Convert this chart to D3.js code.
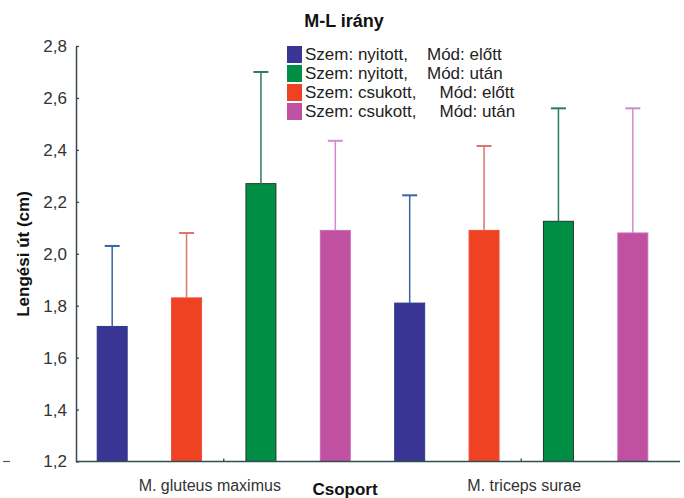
<!DOCTYPE html>
<html><head><meta charset="utf-8">
<script src="https://cdn.jsdelivr.net/npm/d3@7"></script>
<style>
body{margin:0;background:#fff;}
svg{display:block;font-family:"Liberation Sans",Arial,sans-serif;}
</style></head>
<body>
<svg id="chart" width="684" height="498"></svg>
<script>
// ---- data ----
const title = "M-L irány";
const yLabel = "Lengési út (cm)";
const xLabel = "Csoport";
const groups = ["M. gluteus maximus", "M. triceps surae"];
// bar order within each group
const series = ["nyitott-előtt", "csukott-előtt", "nyitott-után", "csukott-után"];
const legendOrder = ["nyitott-előtt", "nyitott-után", "csukott-előtt", "csukott-után"];
const legendLeft = {"nyitott-előtt":"Szem: nyitott,","nyitott-után":"Szem: nyitott,","csukott-előtt":"Szem: csukott,","csukott-után":"Szem: csukott,"};
const legendRight = {"nyitott-előtt":"Mód: előtt","nyitott-után":"Mód: után","csukott-előtt":"Mód: előtt","csukott-után":"Mód: után"};
const meansGluteus = [1.72, 1.83, 2.27, 2.09];
const meansTriceps = [1.81, 2.09, 2.125, 2.08];
const upperGluteus = [2.03, 2.08, 2.70, 2.435];
const upperTriceps = [2.225, 2.415, 2.56, 2.56];
const yTicks = [1.2, 1.4, 1.6, 1.8, 2.0, 2.2, 2.4, 2.6, 2.8];

const fill = {"nyitott-előtt":"#393594","csukott-előtt":"#ee4223","nyitott-után":"#008e45","csukott-után":"#c050a0"};
const stroke = {"nyitott-előtt":"#2a3a8a","csukott-előtt":"#e8503a","nyitott-után":"#1c3b2a","csukott-után":"#c86ab8"};
const errColor = {"nyitott-előtt":"#3a64a6","csukott-előtt":"#d8776a","nyitott-után":"#2d7a5a","csukott-után":"#d48ad0"};

const rows = [];
groups.forEach((g, gi) => {
  const m = gi === 0 ? meansGluteus : meansTriceps;
  const u = gi === 0 ? upperGluteus : upperTriceps;
  series.forEach((s, si) => rows.push({group: g, series: s, mean: m[si], upper: u[si]}));
});

// ---- layout ----
const svg = d3.select("#chart");
const mLeft = 75, mRight = 670, mTop = 46, mBottom = 461.5;

const x0 = d3.scaleBand().domain(groups).range([mLeft, mRight]).padding(0);
const x1 = d3.scaleBand().domain(series).range([0, x0.bandwidth()]).paddingInner(0.597).paddingOuter(0.2985);
const y = d3.scaleLinear().domain([1.2, 2.8]).range([mBottom, mTop]);

const loc = d3.formatLocale({decimal: ",", thousands: " ", grouping: [3], currency: ["", ""]});
const fmt = loc.format(".1f");

// bars
const bars = svg.append("g");
bars.selectAll("rect").data(rows).join("rect")
  .attr("x", d => x0(d.group) + x1(d.series))
  .attr("width", x1.bandwidth())
  .attr("y", d => y(d.mean))
  .attr("height", d => y(1.2) - y(d.mean))
  .attr("fill", d => fill[d.series])
  .attr("stroke", d => stroke[d.series])
  .attr("stroke-width", 1);

// error bars (upper only)
const eb = svg.append("g");
rows.forEach(d => {
  const cx = x0(d.group) + x1(d.series) + x1.bandwidth() / 2;
  eb.append("line").attr("x1", cx).attr("x2", cx).attr("y1", y(d.mean)).attr("y2", y(d.upper))
    .attr("stroke", errColor[d.series]).attr("stroke-width", 1.5);
  eb.append("line").attr("x1", cx - 7.5).attr("x2", cx + 7.5).attr("y1", y(d.upper)).attr("y2", y(d.upper))
    .attr("stroke", errColor[d.series]).attr("stroke-width", 2);
});

// y axis
const yAxis = svg.append("g").attr("transform", `translate(${mLeft + 1},0)`)
  .call(d3.axisLeft(y).tickValues(yTicks).tickFormat(fmt).tickSizeInner(-3).tickSizeOuter(0).tickPadding(9));
yAxis.select(".domain").attr("stroke", "#3a4a4a").attr("stroke-width", 1.5);
yAxis.selectAll(".tick line").attr("stroke", "#3a4a4a").attr("stroke-width", 1.3);
yAxis.selectAll(".tick text").attr("font-size", 17).attr("fill", "#333").attr("font-family", "Liberation Sans, Arial, sans-serif");

// x axis
const xAxis = svg.append("g").attr("transform", `translate(0,${mBottom})`)
  .call(d3.axisBottom(x0).tickSizeInner(-3).tickSizeOuter(0).tickPadding(18));
xAxis.select(".domain").attr("d", `M${mLeft + 1},0H680`).attr("stroke", "#2f4f50").attr("stroke-width", 1.5);
xAxis.selectAll(".tick line").attr("stroke", "#2f4f50").attr("stroke-width", 1.3);
xAxis.selectAll(".tick text").attr("font-size", 16).attr("fill", "#333")
  .attr("font-family", "Liberation Sans, Arial, sans-serif")
  .attr("dx", (d, i) => i === 0 ? -14 : 3);

// small artifact dash at bottom-left
svg.append("line").attr("x1", 3).attr("x2", 10).attr("y1", mBottom).attr("y2", mBottom).attr("stroke", "#555").attr("stroke-width", 1.2);

// title
svg.append("text").attr("x", 344).attr("y", 27).attr("text-anchor", "middle")
  .attr("font-size", 18).attr("font-weight", "bold").attr("fill", "#111").text(title);

// axis titles
svg.append("text").attr("x", 345).attr("y", 495).attr("text-anchor", "middle")
  .attr("font-size", 17).attr("font-weight", "bold").attr("fill", "#111").text(xLabel);
svg.append("text").attr("transform", "translate(29,254) rotate(-90)").attr("text-anchor", "middle")
  .attr("font-size", 17).attr("font-weight", "bold").attr("fill", "#111").text(yLabel);

// legend
const lg = svg.append("g");
legendOrder.forEach((s, i) => {
  const yy = 46 + i * 19;
  lg.append("rect").attr("x", 287).attr("y", yy).attr("width", 15).attr("height", 17).attr("fill", fill[s]);
  const t = lg.append("text").attr("x", 305).attr("y", yy + 14).attr("font-size", 17).attr("fill", "#222")
    .text(legendLeft[s]);
  const w = t.node().getComputedTextLength();
  const gap = s.startsWith("nyitott") ? 19 : 23;
  lg.append("text").attr("x", 305 + w + gap).attr("y", yy + 14).attr("font-size", 17).attr("fill", "#222")
    .text(legendRight[s]);
});
</script>
</body></html>
